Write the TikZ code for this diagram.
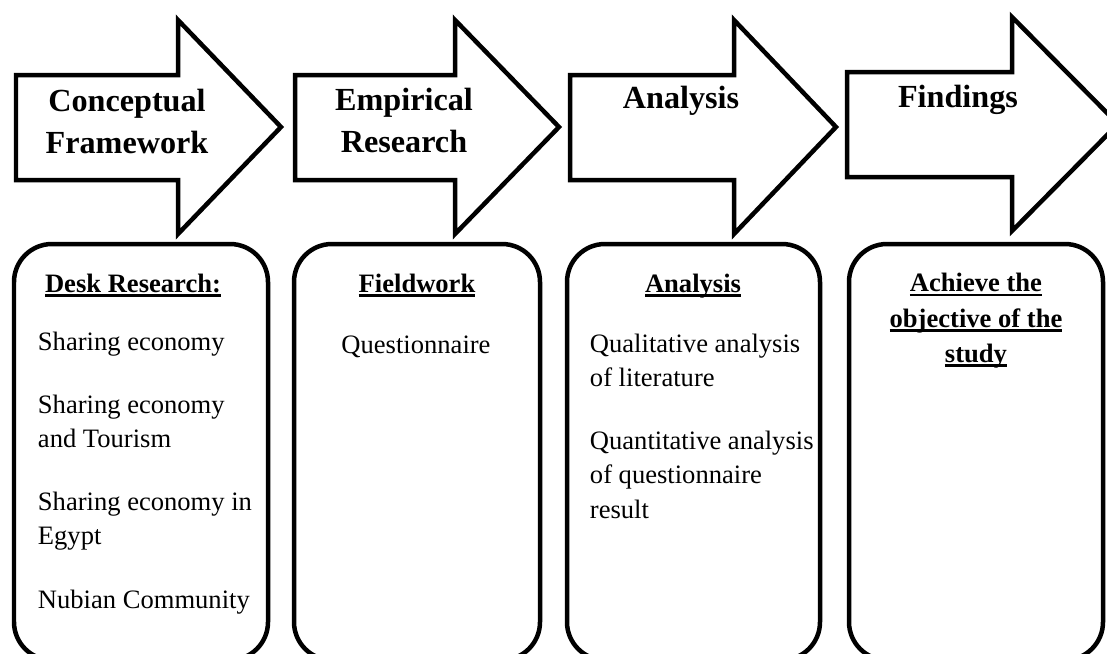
\documentclass[tikz,border=0pt]{standalone}
\usepackage{fontspec}
\setmainfont{Liberation Serif}
\usepackage{tikz}
\usetikzlibrary{positioning}

\newcommand{\thickul}[1]{\setbox0\hbox{#1}\rlap{\rule[-3.2pt]{\wd0}{1.6pt}}\box0}

\tikzset{
  stagearrow/.style={draw=black, line width=3.2pt, fill=white, line join=miter},
  stagebox/.style={draw=black, line width=3.2pt, fill=white, rounded corners=0.95cm},
  stagetitle/.style={font=\fontsize{22.9}{29.2}\selectfont\bfseries, align=center, anchor=base},
  boxhead/.style={font=\fontsize{18.9}{24.9}\selectfont\bfseries, align=center, anchor=base},
  boxitem/.style={font=\fontsize{18.9}{24.2}\selectfont, align=left, anchor=base west}
}

\begin{document}
\begin{tikzpicture}
  \useasboundingbox (0, 0) rectangle (27.675, -16.325);
  \clip (0, 0) rectangle (27.675, -16.325);

  % Stage arrows
  \draw[stagearrow] (0.4, -1.875) -- (4.45, -1.875) -- (4.45, -0.5) -- (7.025, -3.175) -- (4.45, -5.85) -- (4.45, -4.5) -- (0.4, -4.5) -- cycle;
  \draw[stagearrow] (7.375, -1.875) -- (11.375, -1.875) -- (11.375, -0.5) -- (13.975, -3.175) -- (11.375, -5.85) -- (11.375, -4.5) -- (7.375, -4.5) -- cycle;
  \draw[stagearrow] (14.25, -1.875) -- (18.35, -1.875) -- (18.35, -0.5) -- (20.9, -3.175) -- (18.35, -5.85) -- (18.35, -4.5) -- (14.25, -4.5) -- cycle;
  \draw[stagearrow] (21.175, -1.8) -- (25.3, -1.8) -- (25.3, -0.425) -- (27.95, -3.1) -- (25.3, -5.775) -- (25.3, -4.425) -- (21.175, -4.425) -- cycle;

  % base anchor sits on the last line
  \node[stagetitle] (conc) at (3.175, -3.825) {Conceptual\\Framework};
  \node[stagetitle] (emp) at (10.1, -3.8) {Empirical\\Research};
  \node[stagetitle] (ana) at (17.025, -2.7) {Analysis};
  \node[stagetitle] (find) at (23.95, -2.675) {Findings};

  % Stage boxes
  \draw[stagebox] (0.35, -6.1) rectangle (6.7, -16.5);
  \draw[stagebox] (7.35, -6.1) rectangle (13.5, -16.5);
  \draw[stagebox] (14.175, -6.1) rectangle (20.5, -16.5);
  \draw[stagebox] (21.225, -6.1) rectangle (27.575, -16.5);

  % Desk research
  \node[boxhead] (desk) at (3.325, -7.3) {\thickul{Desk Research:}};
  \node[boxitem] (deskitems) at (0.825, -15.2) {Sharing economy\\[0.725cm]Sharing economy\\and Tourism\\[0.725cm]Sharing economy in\\Egypt\\[0.725cm]Nubian Community};

  % Fieldwork
  \node[boxhead] (field) at (10.425, -7.3) {\thickul{Fieldwork}};
  \node[boxitem, anchor=base] (quest) at (10.4, -8.825) {Questionnaire};

  % Analysis
  \node[boxhead] (anahead) at (17.325, -7.3) {\thickul{Analysis}};
  \node[boxitem] (anaitems) at (14.625, -12.95) {Qualitative analysis\\of literature\\[0.725cm]Quantitative analysis\\of questionnaire\\result};

  % Findings
  \node[boxhead] (goal) at (24.4, -9.05) {\thickul{Achieve the}\\\thickul{objective of the}\\\thickul{study}};
\end{tikzpicture}
\end{document}
